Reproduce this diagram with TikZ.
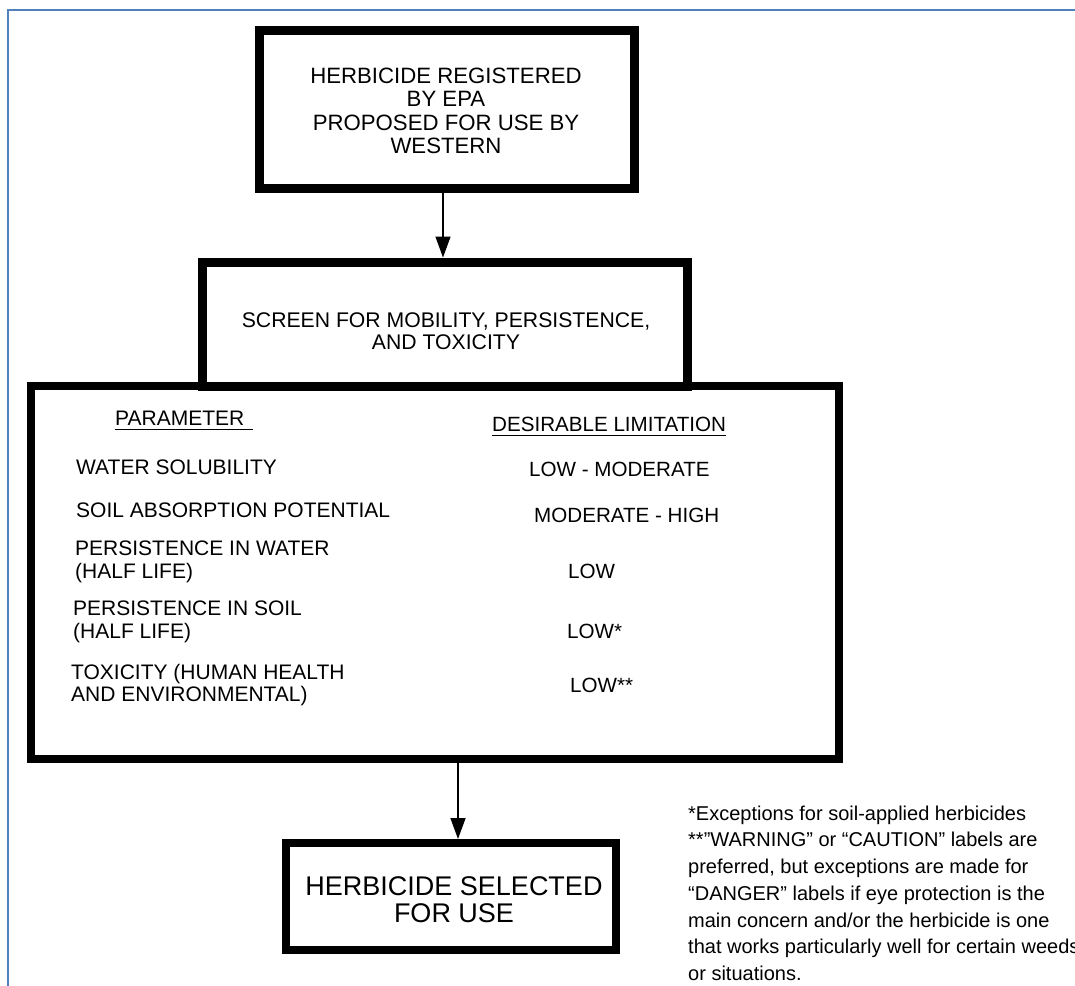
\documentclass[tikz,border=0pt]{standalone}
\usepackage{fontspec}
\setmainfont{Liberation Sans}
\usetikzlibrary{arrows.meta,calc}
\definecolor{frameblue}{RGB}{79,129,189}
\begin{document}
\begin{tikzpicture}[x=1pt,y=-1pt,
  box/.style={draw=black,rectangle,inner sep=0pt,align=center},
  arr/.style={draw=black,line width=1.4pt,-{Triangle[length=21pt,width=15pt]}},
  tbl/.style={inner sep=0pt,font=\fontsize{21}{22.5}\selectfont},
  tbr/.style={inner sep=0pt,font=\fontsize{20.6}{22.5}\selectfont},
  uline/.style={draw=black,line width=1.6pt},
  note/.style={inner sep=0pt,align=left,font=\fontsize{20}{26.7}\selectfont}]
\useasboundingbox (0,0) rectangle (1075,985);
\clip (0,0) rectangle (1075,985);
\fill[white] (0,0) rectangle (1075,985);
% frame
\draw[frameblue,line width=2.5pt] (8,1000) -- (8,10) -- (1090,10);
% boxes
\node[box,line width=9pt,minimum width=375pt,minimum height=158pt] (reg) at (446.5,109) {};
\node[inner sep=0pt,align=center,font=\fontsize{22.2}{23.4}\selectfont] (regt) at (446,111)
  {HERBICIDE REGISTERED\\BY EPA\\PROPOSED FOR USE BY\\WESTERN};
\node[box,line width=9pt,minimum width=485pt,minimum height=124pt] (scr) at (445,324) {};
\node[inner sep=0pt,align=center,font=\fontsize{21.2}{21.5}\selectfont] (scrt) at (446,331)
  {SCREEN FOR MOBILITY, PERSISTENCE,\\AND TOXICITY};
\node[box,line width=8.5pt,minimum width=808pt,minimum height=373pt] (tab) at (435,572.5) {};
\node[box,line width=8pt,minimum width=330pt,minimum height=107pt] (sel) at (451,896.5) {};
\node[inner sep=0pt,align=center,font=\fontsize{27}{27.5}\selectfont] (selt) at (454,899.5)
  {HERBICIDE SELECTED\\FOR USE};
% table
\node[tbl,anchor=west] (ph) at (115,418) {PARAMETER};
\node[tbr,anchor=west] (lh) at (492,424) {DESIRABLE LIMITATION};
\draw[uline] ($(ph.south west)+(0,4)$) -- ($(ph.south east)+(8,4)$);
\draw[uline] ($(lh.south west)+(0,4)$) -- ($(lh.south east)+(0,4)$);
\node[tbl,anchor=west] (p1) at (76,467) {WATER SOLUBILITY};
\node[tbl,anchor=west] (p2) at (76,510) {SOIL ABSORPTION POTENTIAL};
\node[tbl,anchor=west,align=left] (p3) at (75,562) {PERSISTENCE IN WATER\\(HALF LIFE)};
\node[tbl,anchor=west,align=left] (p4) at (73,622) {PERSISTENCE IN SOIL\\(HALF LIFE)};
\node[tbl,anchor=west,align=left] (p5) at (71,685) {TOXICITY (HUMAN HEALTH\\AND ENVIRONMENTAL)};
\node[tbr,anchor=west] (l1) at (529,469) {LOW - MODERATE};
\node[tbr,anchor=west] (l2) at (534,515) {MODERATE - HIGH};
\node[tbr,anchor=west] (l3) at (568,571) {LOW};
\node[tbr,anchor=west] (l4) at (567,631) {LOW*};
\node[tbr,anchor=west] (l5) at (570,685) {LOW**};
% arrows
\coordinate (ax1) at (443,0);
\coordinate (ax2) at (458,0);
\draw[arr] (reg.south -| ax1) -- (scr.north -| ax1);
\draw[arr] (tab.south -| ax2) -- (sel.north -| ax2);
% footnote
\node[note,anchor=north west] (fn) at (688,805.5)
  {*Exceptions for soil-applied herbicides\\
   **\textquotedblright WARNING\textquotedblright{} or \textquotedblleft CAUTION\textquotedblright{} labels are\\
   preferred, but exceptions are made for\\
   \textquotedblleft DANGER\textquotedblright{} labels if eye protection is the\\
   main concern and/or the herbicide is one\\
   that works particularly well for certain weeds\\
   or situations.};
\end{tikzpicture}
\end{document}
